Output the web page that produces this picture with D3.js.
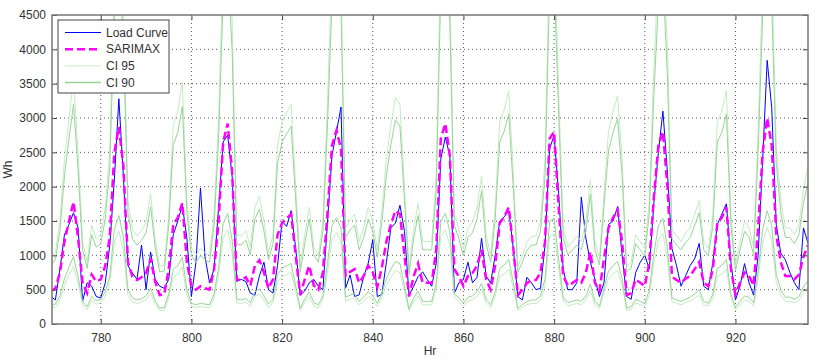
<!DOCTYPE html>
<html>
<head>
<meta charset="utf-8">
<script src="https://cdn.jsdelivr.net/npm/d3@7"></script>
<style>
	body { margin: 0; background: #fff; }
	svg { display: block; font-family: "Liberation Sans", Arial, sans-serif; }
	.grid line { stroke: #444; stroke-dasharray: 1,3; stroke-width: 0.9; }
	.tick text { fill: #333; font-size: 12px; }
</style>
</head>
<body>
<div id="chart"></div>
<script>
// first hour of the window
var startHour = 769;

var xTicks = [780, 800, 820, 840, 860, 880, 900, 920];
var yTicks = [0, 500, 1000, 1500, 2000, 2500, 3000, 3500, 4000, 4500];

// measured load (Wh)
var loadCurve = [
	400, 350, 800, 1300, 1450, 1620, 1400, 330, 600, 550,
	400, 380, 600, 1150, 2100, 3280, 2140, 850, 740, 650,
	1150, 500, 1050, 650, 550, 520, 650, 1300, 1500, 1730,
	1250, 400, 900, 1980, 980, 600, 800, 1700, 2650, 2750,
	2140, 620, 650, 620, 450, 420, 700, 900, 500, 450,
	850, 1500, 1420, 1650, 1100, 420, 480, 600, 650, 550,
	500, 1470, 2450, 2800, 3160, 520, 715, 400, 425, 690,
	885, 1225, 400, 430, 900, 1400, 1470, 1730, 1350, 420,
	547, 690, 760, 650, 550, 885, 2400, 2720, 2450, 450,
	600, 650, 900, 600, 680, 1250, 700, 595, 1000, 1500,
	1560, 1650, 1100, 400, 350, 680, 600, 500, 520, 1150,
	2550, 2750, 1900, 800, 500, 500, 600, 1850, 1250, 900,
	650, 400, 600, 1450, 1500, 1710, 1000, 400, 360, 750,
	900, 1000, 800, 1760, 2500, 3100, 2200, 1100, 850, 550,
	700, 850, 950, 1175, 550, 500, 885, 1450, 1600, 1750,
	900, 350, 550, 880, 600, 420, 1000, 2400, 3840, 3150,
	1450, 1030, 935, 750, 600, 500, 1400, 1175
];

// SARIMAX forecast
var sarimax = [
	480, 520, 750, 1200, 1500, 1780, 1250, 600, 450, 720,
	620, 650, 850, 1270, 2500, 2870, 2300, 900, 690, 640,
	680, 740, 950, 620, 420, 430, 800, 1450, 1550, 1760,
	900, 550, 500, 550, 520, 500, 800, 1500, 2650, 2920,
	2200, 650, 640, 680, 560, 850, 930, 750, 520, 650,
	1300, 1470, 1540, 1600, 1000, 420, 650, 850, 560, 500,
	750, 1600, 2600, 2820, 2550, 700, 760, 800, 600, 700,
	850, 750, 540, 820, 1200, 1450, 1650, 1600, 1000, 400,
	690, 880, 600, 600, 600, 1080, 2700, 2920, 2450, 800,
	690, 550, 700, 740, 850, 1080, 650, 500, 850, 1470,
	1560, 1700, 1100, 420, 500, 595, 640, 640, 750, 1200,
	2700, 2800, 1700, 700, 560, 595, 640, 600, 750, 1050,
	600, 480, 950, 1400, 1550, 1660, 1200, 420, 450, 650,
	600, 550, 900, 1850, 2600, 2800, 2000, 690, 640, 600,
	660, 700, 800, 900, 600, 550, 790, 1470, 1550, 1700,
	800, 430, 600, 750, 700, 560, 1400, 2500, 3000, 2600,
	1300, 900, 700, 700, 650, 720, 980, 1150
];

// 95% interval
var ci95Upper = [
	960, 1040, 1500, 2400, 3000, 3560, 2500, 1200, 900, 1440,
	1240, 1300, 1700, 2540, 5000, 5740, 4600, 1800, 1380, 1280,
	1360, 1480, 1900, 1240, 840, 860, 1600, 2900, 3100, 3520,
	1800, 1100, 1000, 1100, 1040, 1000, 1600, 3000, 5300, 5840,
	4400, 1300, 1280, 1360, 1120, 1700, 1860, 1500, 1040, 1300,
	2600, 2940, 3080, 3200, 2000, 840, 1300, 1700, 1120, 1000,
	1500, 3200, 5200, 5640, 5100, 1400, 1520, 1600, 1200, 1400,
	1700, 1500, 1080, 1640, 2400, 2900, 3300, 3200, 2000, 800,
	1380, 1760, 1200, 1200, 1200, 2160, 5400, 5840, 4900, 1600,
	1380, 1100, 1400, 1480, 1700, 2160, 1300, 1000, 1700, 2940,
	3120, 3400, 2200, 840, 1000, 1190, 1280, 1280, 1500, 2400,
	5400, 5600, 3400, 1400, 1120, 1190, 1280, 1200, 1500, 2100,
	1200, 960, 1900, 2800, 3100, 3320, 2400, 840, 900, 1300,
	1200, 1100, 1800, 3700, 5200, 5600, 4000, 1380, 1280, 1200,
	1320, 1400, 1600, 1800, 1200, 1100, 1580, 2940, 3100, 3400,
	1600, 860, 1200, 1500, 1400, 1120, 2800, 5000, 6000, 5200,
	2600, 1800, 1400, 1400, 1300, 1440, 1960, 2300
];
var ci95Lower = [
	230, 240, 350, 560, 710, 840, 590, 280, 210, 340,
	290, 310, 400, 600, 1180, 1350, 1080, 420, 320, 300,
	320, 350, 450, 290, 200, 200, 380, 680, 730, 830,
	420, 260, 240, 260, 240, 240, 380, 710, 1250, 1370,
	1030, 310, 300, 320, 260, 400, 440, 350, 240, 310,
	610, 690, 720, 750, 470, 200, 310, 400, 260, 240,
	350, 750, 1220, 1330, 1200, 330, 360, 380, 280, 330,
	400, 350, 250, 390, 560, 680, 780, 750, 470, 190,
	320, 410, 280, 280, 280, 510, 1270, 1370, 1150, 380,
	320, 260, 330, 350, 400, 510, 310, 240, 400, 690,
	730, 800, 520, 200, 240, 280, 300, 300, 350, 560,
	1270, 1320, 800, 330, 260, 280, 300, 280, 350, 490,
	280, 230, 450, 660, 730, 780, 560, 200, 210, 310,
	280, 260, 420, 870, 1220, 1320, 940, 320, 300, 280,
	310, 330, 380, 420, 280, 260, 370, 690, 730, 800,
	380, 200, 280, 350, 330, 260, 660, 1180, 1410, 1220,
	610, 420, 330, 330, 310, 340, 460, 540
];

// 90% interval
var ci90Upper = [
	860, 940, 1350, 2160, 2700, 3200, 2250, 1080, 810, 1300,
	1120, 1170, 1530, 2290, 4500, 5170, 4140, 1620, 1240, 1150,
	1220, 1330, 1710, 1120, 760, 770, 1440, 2610, 2790, 3170,
	1620, 990, 900, 990, 940, 900, 1440, 2700, 4770, 5260,
	3960, 1170, 1150, 1220, 1010, 1530, 1670, 1350, 940, 1170,
	2340, 2650, 2770, 2880, 1800, 760, 1170, 1530, 1010, 900,
	1350, 2880, 4680, 5080, 4590, 1260, 1370, 1440, 1080, 1260,
	1530, 1350, 970, 1480, 2160, 2610, 2970, 2880, 1800, 720,
	1240, 1580, 1080, 1080, 1080, 1940, 4860, 5260, 4410, 1440,
	1240, 990, 1260, 1330, 1530, 1940, 1170, 900, 1530, 2650,
	2810, 3060, 1980, 760, 900, 1070, 1150, 1150, 1350, 2160,
	4860, 5040, 3060, 1260, 1010, 1070, 1150, 1080, 1350, 1890,
	1080, 860, 1710, 2520, 2790, 2990, 2160, 760, 810, 1170,
	1080, 990, 1620, 3330, 4680, 5040, 3600, 1240, 1150, 1080,
	1190, 1260, 1440, 1620, 1080, 990, 1420, 2650, 2790, 3060,
	1440, 770, 1080, 1350, 1260, 1010, 2520, 4500, 5400, 4680,
	2340, 1620, 1260, 1260, 1170, 1300, 1760, 2070
];
var ci90Lower = [
	260, 290, 410, 660, 830, 980, 690, 330, 250, 400,
	340, 360, 470, 700, 1380, 1580, 1270, 500, 380, 350,
	370, 410, 520, 340, 230, 240, 440, 800, 850, 970,
	500, 300, 280, 300, 290, 280, 440, 830, 1460, 1610,
	1210, 360, 350, 370, 310, 470, 510, 410, 290, 360,
	720, 810, 850, 880, 550, 230, 360, 470, 310, 280,
	410, 880, 1430, 1550, 1400, 390, 420, 440, 330, 390,
	470, 410, 300, 450, 660, 800, 910, 880, 550, 220,
	380, 480, 330, 330, 330, 590, 1490, 1610, 1350, 440,
	380, 300, 390, 410, 470, 590, 360, 280, 470, 810,
	860, 940, 610, 230, 280, 330, 350, 350, 410, 660,
	1490, 1540, 940, 390, 310, 330, 350, 330, 410, 580,
	330, 260, 520, 770, 850, 910, 660, 230, 250, 360,
	330, 300, 500, 1020, 1430, 1540, 1100, 380, 350, 330,
	360, 390, 440, 500, 330, 300, 430, 810, 850, 940,
	440, 240, 330, 410, 390, 310, 770, 1380, 1650, 1430,
	720, 500, 390, 390, 360, 400, 540, 630
];

// set the dimensions and margins of the graph
var margin = {top: 15, right: 9, bottom: 37, left: 52};
var width = 817 - margin.left - margin.right;
var height = 361 - margin.top - margin.bottom;

var x = d3.scaleLinear().domain([769.25, 936]).range([0, width]);
var y = d3.scaleLinear().domain([0, 4500]).range([height, 0]);

var svg = d3.select("#chart").append("svg")
	.attr("width", 817)
	.attr("height", 361)
	.append("g")
	.attr("transform", "translate(" + margin.left + "," + margin.top + ")");

svg.append("defs").append("clipPath")
	.attr("id", "plotclip")
	.append("rect")
	.attr("width", width)
	.attr("height", height);

// grid
var grid = svg.append("g").attr("class", "grid");
grid.selectAll("line.gx")
	.data(xTicks)
	.enter().append("line")
	.attr("class", "gx")
	.attr("x1", function(d) { return x(d); })
	.attr("x2", function(d) { return x(d); })
	.attr("y1", 0)
	.attr("y2", height);
grid.selectAll("line.gy")
	.data(yTicks.slice(1, -1))
	.enter().append("line")
	.attr("class", "gy")
	.attr("x1", 0)
	.attr("x2", width)
	.attr("y1", function(d) { return y(d); })
	.attr("y2", function(d) { return y(d); });

// lines
var line = d3.line()
	.x(function(d, i) { return x(startHour + i); })
	.y(function(d) { return y(d); });

var plot = svg.append("g").attr("clip-path", "url(#plotclip)");

plot.append("path")
	.datum(loadCurve)
	.attr("fill", "none")
	.attr("stroke", "#0000ff")
	.attr("stroke-width", 1)
	.attr("d", line);

plot.append("path")
	.datum(sarimax)
	.attr("fill", "none")
	.attr("stroke", "#ff00ff")
	.attr("stroke-width", 2.5)
	.attr("stroke-dasharray", "8,4")
	.attr("d", line);

[ci95Upper, ci95Lower].forEach(function(s) {
	plot.append("path")
		.datum(s)
		.attr("fill", "none")
		.attr("stroke", "#c4ecc4")
		.attr("stroke-width", 1)
		.attr("d", line);
});
[ci90Upper, ci90Lower].forEach(function(s) {
	plot.append("path")
		.datum(s)
		.attr("fill", "none")
		.attr("stroke", "#98d498")
		.attr("stroke-width", 1)
		.attr("d", line);
});

// axes with inward ticks on all sides
var fmt = d3.format("d");
svg.append("g")
	.attr("transform", "translate(0," + height + ")")
	.call(d3.axisBottom(x).tickValues(xTicks).tickFormat(fmt).tickSizeInner(-5).tickSizeOuter(0).tickPadding(9))
	.call(function(g) { g.select(".domain").remove(); g.selectAll(".tick line").attr("stroke", "#444"); });
svg.append("g")
	.call(d3.axisTop(x).tickValues(xTicks).tickSizeInner(-5).tickSizeOuter(0).tickFormat(""))
	.call(function(g) { g.select(".domain").remove(); g.selectAll(".tick line").attr("stroke", "#444"); });
svg.append("g")
	.call(d3.axisLeft(y).tickValues(yTicks).tickFormat(fmt).tickSizeInner(-5).tickSizeOuter(0).tickPadding(6))
	.call(function(g) { g.select(".domain").remove(); g.selectAll(".tick line").attr("stroke", "#444"); });
svg.append("g")
	.attr("transform", "translate(" + width + ",0)")
	.call(d3.axisRight(y).tickValues(yTicks).tickSizeInner(-5).tickSizeOuter(0).tickFormat(""))
	.call(function(g) { g.select(".domain").remove(); g.selectAll(".tick line").attr("stroke", "#444"); });

svg.selectAll(".tick text").attr("font-family", "Liberation Sans, Arial, sans-serif");

// box
svg.append("rect")
	.attr("width", width)
	.attr("height", height)
	.attr("fill", "none")
	.attr("stroke", "#777")
	.attr("stroke-width", 1.5);

// axis labels
svg.append("text")
	.attr("x", width / 2)
	.attr("y", height + 31)
	.attr("text-anchor", "middle")
	.attr("fill", "#333")
	.attr("font-size", "12px")
	.text("Hr");
svg.append("text")
	.attr("transform", "translate(" + (-40) + "," + (height / 2) + ") rotate(-90)")
	.attr("text-anchor", "middle")
	.attr("fill", "#333")
	.attr("font-size", "12px")
	.text("Wh");

// legend
var legendItems = [
	{name: "Load Curve", color: "#0000ff", w: 1, dash: null},
	{name: "SARIMAX", color: "#ff00ff", w: 2.5, dash: "8,4"},
	{name: "CI 95", color: "#c4ecc4", w: 1, dash: null},
	{name: "CI 90", color: "#98d498", w: 1.5, dash: null}
];
var legend = svg.append("g").attr("transform", "translate(6,5)");
legend.append("rect")
	.attr("width", 111)
	.attr("height", 73)
	.attr("fill", "#fff")
	.attr("stroke", "#444")
	.attr("stroke-width", 1);
var li = legend.selectAll("g.item")
	.data(legendItems)
	.enter().append("g")
	.attr("class", "item")
	.attr("transform", function(d, i) { return "translate(0," + (12.5 + i * 16.7) + ")"; });
li.append("line")
	.attr("x1", 7)
	.attr("x2", 43)
	.attr("stroke", function(d) { return d.color; })
	.attr("stroke-width", function(d) { return d.w; })
	.attr("stroke-dasharray", function(d) { return d.dash; });
li.append("text")
	.attr("x", 48)
	.attr("dy", "0.35em")
	.attr("fill", "#333")
	.attr("font-size", "12px")
	.text(function(d) { return d.name; });
</script>
</body>
</html>
